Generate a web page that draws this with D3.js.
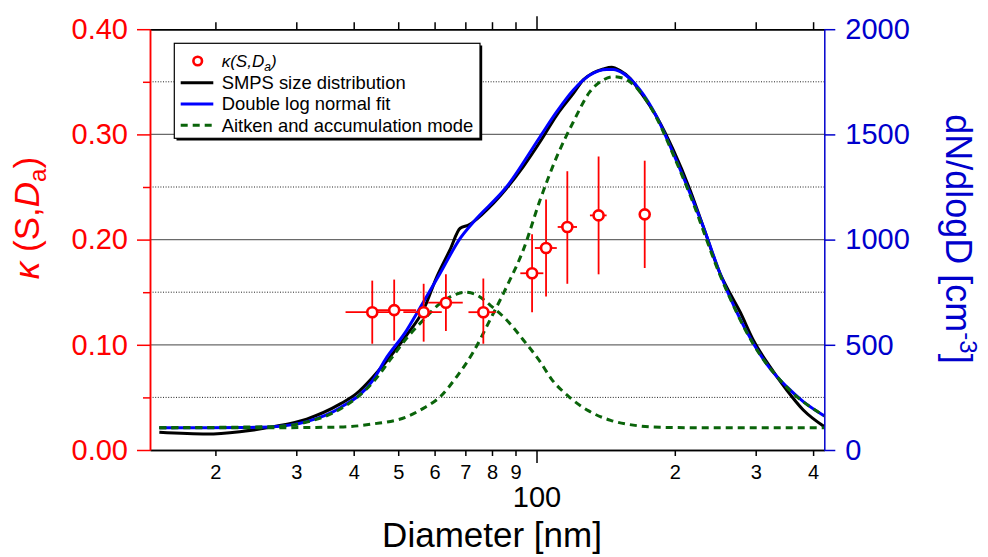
<!DOCTYPE html>
<html><head><meta charset="utf-8">
<script src="https://cdn.jsdelivr.net/npm/d3@7"></script>
<style>
html,body{margin:0;padding:0;background:#fff;}
svg{display:block;font-family:"Liberation Sans",Arial,sans-serif;}
</style></head>
<body><svg id="c" width="988" height="557"></svg>
<script>
// ---- data ----
const smpsD = [15.1,19.2,22.6,26.8,31.6,37.4,40.6,44.1,48.0,52.2,56.7,60.7,64.8,68.2,71.1,79.2,86.1,93.6,101.8,110.7,120.3,126.4,132.9,139.8,145.8,152.0,159.8,168.0,182.6,198.5,215.9,230.7,250.8,263.7,277.3,296.3,322.2,350.4,380.8,423.1];
const smpsN = [84,76,87,111,147,219,269,348,443,547,665,824,951,1054,1069,1156,1244,1347,1465,1592,1695,1759,1793,1811,1819,1803,1767,1703,1584,1426,1236,1061,840,745,657,523,396,285,190,111];

const fitD = [15.1,19.2,22.6,26.8,31.6,37.4,44.1,46.8,52.2,54.9,61.7,68.2,72.9,86.1,101.8,110.7,120.3,130.7,142.2,146.9,154.5,168.0,182.6,198.5,215.9,230.7,250.8,296.3,322.2,350.4,380.8,423.1];
const fitN = [106,106,107,111,135,201,333,428,570,650,840,1006,1084,1251,1489,1608,1711,1782,1809,1809,1790,1711,1584,1410,1220,1061,840,507,388,301,230,162];

const aitD = [15.1,26.8,31.6,37.4,44.1,48.0,52.2,56.7,61.7,67.0,69.9,74.1,79.2,86.1,93.6,101.8,107.9,117.7,129.6,145.0,163.8,185.7,227,423.1];
const aitN = [106,111,133,195,323,428,532,618,697,741,750,737,689,618,523,420,336,253,187,141,117,108,106,106];

const accD = [15.1,26.8,37.4,44.1,52.2,56.7,61.7,67.0,72.9,79.2,86.1,93.6,101.8,110.7,120.3,130.7,139.8,146.9,154.5,168.0,182.6,198.5,215.9,250.8,296.3,350.4,423.1];
const accN = [106,106,109,124,158,198,253,348,467,618,776,951,1188,1394,1560,1703,1759,1774,1767,1703,1578,1403,1212,832,504,299,162];

const kapD   = [43.9,49.0,56.8,63.5,76.6,97.8,104.9,116.7,136.5,172.0];
const kapDlo = [38.4,43.9,51.3,58.1,71.1,92.2,99.2,111.2,130.7,169.0];
const kapDhi = [49.5,54.7,62.2,69.1,81.5,103.5,110.7,122.5,142.1,175.0];
const kap    = [0.131,0.133,0.131,0.140,0.131,0.168,0.192,0.212,0.223,0.224];
const kapLo  = [0.101,0.104,0.103,0.113,0.101,0.131,0.146,0.158,0.167,0.173];
const kapHi  = [0.161,0.162,0.158,0.167,0.163,0.205,0.238,0.265,0.279,0.275];

const xMinorTicks = [20,30,40,50,60,70,80,90,200,300,400];
const xMajorTicks = [100];
const yLTicks = [0,0.1,0.2,0.3,0.4];
const yLMinor = [0.05,0.15,0.25,0.35];
const yRTicks = [0,500,1000,1500,2000];

const legendLabels = ["SMPS size distribution","Double log normal fit","Aitken and accumulation mode"];

// ---- chart ----
const svg = d3.select("#c");
const L=150, R=824.3, T=29.2, B=450;
const x = d3.scaleLog().domain([14.41,423.1]).range([L,R]);
const yL = d3.scaleLinear().domain([0,0.4]).range([B,T]);
const yR = d3.scaleLinear().domain([0,2000]).range([B,T]);

const RED="#ff0000", AXBLUE="#0000cc", BLUE="#0000ff", GREEN="#0a640a";

svg.append("defs").append("clipPath").attr("id","clip")
  .append("rect").attr("x",L).attr("y",T).attr("width",R-L).attr("height",B-T);

// grid
const grid = svg.append("g");
grid.selectAll(".gs").data(yLTicks.slice(1,4)).join("line")
  .attr("x1",L).attr("x2",R).attr("y1",d=>yL(d)).attr("y2",d=>yL(d))
  .attr("stroke","#6a6a6a").attr("stroke-width",1.3);
grid.selectAll(".gd").data(yLMinor).join("line")
  .attr("x1",L).attr("x2",R).attr("y1",d=>yL(d)).attr("y2",d=>yL(d))
  .attr("stroke","#222").attr("stroke-width",1).attr("stroke-dasharray","1,1.6");

const line = d3.line().x(d=>x(d[0])).y(d=>yR(d[1])).curve(d3.curveMonotoneX);
const zip=(a,b)=>a.map((v,i)=>[v,b[i]]);
const curves = svg.append("g").attr("clip-path","url(#clip)");
curves.append("path").attr("d",line(zip(smpsD,smpsN))).attr("fill","none").attr("stroke","#000").attr("stroke-width",3);
curves.append("path").attr("d",line(zip(fitD,fitN))).attr("fill","none").attr("stroke",BLUE).attr("stroke-width",3);
curves.append("path").attr("d",line(zip(aitD,aitN))).attr("fill","none").attr("stroke",GREEN).attr("stroke-width",3).attr("stroke-dasharray","7,5");
curves.append("path").attr("d",line(zip(accD,accN))).attr("fill","none").attr("stroke",GREEN).attr("stroke-width",3).attr("stroke-dasharray","7,5");

// kappa points
const pts = svg.append("g");
kapD.forEach((d,i)=>{
  pts.append("line").attr("x1",x(d)).attr("x2",x(d)).attr("y1",yL(kapLo[i])).attr("y2",yL(kapHi[i])).attr("stroke",RED).attr("stroke-width",1.8);
  pts.append("line").attr("x1",x(kapDlo[i])).attr("x2",x(kapDhi[i])).attr("y1",yL(kap[i])).attr("y2",yL(kap[i])).attr("stroke",RED).attr("stroke-width",1.8);
});
pts.selectAll("circle").data(kapD).join("circle")
  .attr("cx",d=>x(d)).attr("cy",(d,i)=>yL(kap[i])).attr("r",5)
  .attr("fill","#fff").attr("stroke",RED).attr("stroke-width",2.6);

// legend
const lg = svg.append("g");
lg.append("rect").attr("x",176.5).attr("y",45.5).attr("width",305.7).attr("height",95).attr("fill","#000");
lg.append("rect").attr("x",174.3).attr("y",43.3).attr("width",305.7).attr("height",95).attr("fill","#fff").attr("stroke","#000").attr("stroke-width",1.2);
const rowY=[61,82.7,104,125.3];
lg.append("circle").attr("cx",197.7).attr("cy",rowY[0]).attr("r",4.3).attr("fill","#fff").attr("stroke",RED).attr("stroke-width",2.6);
const kt = lg.append("text").attr("x",221.7).attr("y",rowY[0]).attr("dy","0.35em").attr("font-size",17).attr("font-style","italic").attr("fill","#000");
kt.append("tspan").text("κ(S,D");
kt.append("tspan").attr("font-size",12).attr("dy",4).text("a");
kt.append("tspan").attr("dy",-4).text(")");
const styles=[{c:"#000",d:null},{c:BLUE,d:null},{c:GREEN,d:"7,5"}];
legendLabels.forEach((t,i)=>{
  const l=lg.append("line").attr("x1",180.7).attr("x2",213.3).attr("y1",rowY[i+1]).attr("y2",rowY[i+1]).attr("stroke",styles[i].c).attr("stroke-width",3);
  if(styles[i].d) l.attr("stroke-dasharray",styles[i].d);
  lg.append("text").attr("x",221.7).attr("y",rowY[i+1]).attr("dy","0.35em").attr("font-size",18.4).attr("fill","#000").text(t);
});

// axes
function styleAx(g,color){g.selectAll("path,line").attr("stroke",color).attr("stroke-width",1.5);g.selectAll("text").attr("fill",color);}
const bMin = svg.append("g").attr("transform",`translate(0,${B})`)
  .call(d3.axisBottom(x).tickValues(xMinorTicks).tickFormat(d=>String(d).charAt(0)).tickSize(6).tickPadding(9).tickSizeOuter(0));
bMin.selectAll("text").attr("font-size",20).attr("font-family",null);
styleAx(bMin,"#000");
const bMaj = svg.append("g").attr("transform",`translate(0,${B})`)
  .call(d3.axisBottom(x).tickValues(xMajorTicks).tickFormat(d3.format("d")).tickSize(13).tickPadding(23).tickSizeOuter(0));
bMaj.selectAll("text").attr("font-size",29).attr("font-family",null);
styleAx(bMaj,"#000");
const tMin = svg.append("g").attr("transform",`translate(0,${T})`)
  .call(d3.axisTop(x).tickValues(xMinorTicks).tickFormat("").tickSize(7).tickSizeOuter(0));
styleAx(tMin,"#000");
const tMaj = svg.append("g").attr("transform",`translate(0,${T})`)
  .call(d3.axisTop(x).tickValues(xMajorTicks).tickFormat("").tickSize(13).tickSizeOuter(0));
styleAx(tMaj,"#000");

const lMin = svg.append("g").attr("transform",`translate(${L},0)`)
  .call(d3.axisLeft(yL).tickValues(yLMinor).tickFormat("").tickSize(7).tickSizeOuter(0));
styleAx(lMin,RED);
const lMaj = svg.append("g").attr("transform",`translate(${L},0)`)
  .call(d3.axisLeft(yL).tickValues(yLTicks).tickFormat(d3.format(".2f")).tickSize(13).tickPadding(9).tickSizeOuter(0));
lMaj.selectAll("text").attr("font-size",29).attr("font-family",null);
styleAx(lMaj,RED);

const rAx = svg.append("g").attr("transform",`translate(${R},0)`)
  .call(d3.axisRight(yR).tickValues(yRTicks).tickFormat(d3.format("d")).tickSize(11).tickPadding(10).tickSizeOuter(0));
rAx.selectAll("text").attr("font-size",29).attr("font-family",null);
styleAx(rAx,AXBLUE);

// titles
svg.append("text").attr("x",492).attr("y",547).attr("text-anchor","middle").attr("font-size",35).attr("fill","#000").text("Diameter [nm]");

const lt = svg.append("text").attr("transform","translate(39,218) rotate(-90)").attr("text-anchor","middle").attr("font-size",35).attr("fill",RED);
lt.append("tspan").attr("font-style","italic").text("κ");
lt.append("tspan").text(" (S,");
lt.append("tspan").attr("font-style","italic").text("D");
lt.append("tspan").attr("font-size",24).attr("dy",7).text("a");
lt.append("tspan").attr("dy",-7).text(")");

const rt = svg.append("text").attr("transform","translate(946,239) rotate(90)").attr("text-anchor","middle").attr("font-size",36).attr("fill",AXBLUE);
rt.append("tspan").text("dN/dlogD [cm");
rt.append("tspan").attr("font-size",24).attr("dy",-14).text("-3");
rt.append("tspan").attr("dy",14).text("]");
</script></body></html>
